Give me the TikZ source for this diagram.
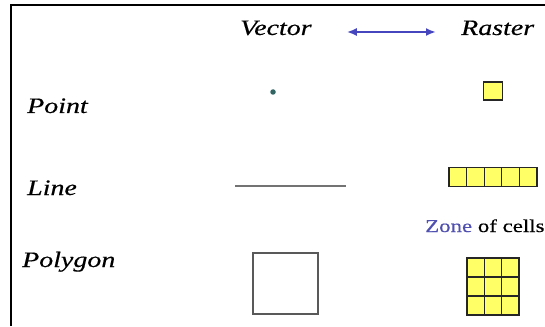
\documentclass[tikz,border=0pt]{standalone}
\usepackage{fontspec}
\newfontfamily\widefont{Liberation Serif}[FakeStretch=1.27,FakeBold=0.4]
\usetikzlibrary{arrows.meta,positioning}
\definecolor{cellyellow}{RGB}{255,255,102}
\definecolor{zoneblue}{RGB}{80,80,176}
\definecolor{arrowblue}{RGB}{70,70,190}
\definecolor{dotteal}{RGB}{50,100,100}

\begin{document}
\begin{tikzpicture}[x=1pt,y=-1pt,>=Latex,
  head/.style={font=\widefont\itshape\fontsize{22}{26}\selectfont,inner sep=0pt,anchor=base west},
  cell/.style={draw=black!85,fill=cellyellow,line width=1.2pt,minimum width=17.6pt,minimum height=19.5pt,inner sep=0pt,outer sep=0pt}]
\useasboundingbox (0,0) rectangle (545,326);
\clip (0,0) rectangle (545,326);
% frame
\draw[line width=2pt] (10.5,326) -- (10.5,5.5) -- (545,5.5);
% column heads
\node[head] (vec) at (240,35) {Vector};
\node[head] (ras) at (461,35) {Raster};
\draw[{Latex[length=10pt,width=8pt]}-{Latex[length=10pt,width=8pt]},arrowblue,line width=2pt,shorten <=35pt,shorten >=25pt]
  ([yshift=3pt]vec.base east) -- ([yshift=3pt]ras.base west);
% row heads
\node[head] (pt) at (27,113) {Point};
\node[head] (ln) at (27,195) {Line};
\node[head] (pg) at (22,267) {Polygon};
% vector side
\node[circle,fill=dotteal,inner sep=0pt,minimum size=5.5pt] (vdot) at (273,92) {};
\draw[black!55,line width=2pt] (235,186) -- (346,186);
\node[draw=black!65,line width=1.4pt,minimum width=65pt,minimum height=61pt,inner sep=0pt] (vpoly) at (285.5,283.5) {};
% raster side
\node[cell,minimum width=19pt,minimum height=18pt] (rpt) at (493,91) {};
\foreach \i in {0,...,4}
  \node[cell] (rl\i) at (457.8+17.6*\i,177) {};
\node[font=\widefont\fontsize{18}{21}\selectfont,anchor=base west,inner sep=0pt] (zone) at (425,232) {\textcolor{zoneblue}{Zone} of cells};
\foreach \i in {0,1,2}
  \foreach \j in {0,1,2}
    \node[cell,minimum width=17.3pt,minimum height=19pt] (rp\i\j) at (475.65+17.3*\i,267.5+19*\j) {};
\end{tikzpicture}
\end{document}
